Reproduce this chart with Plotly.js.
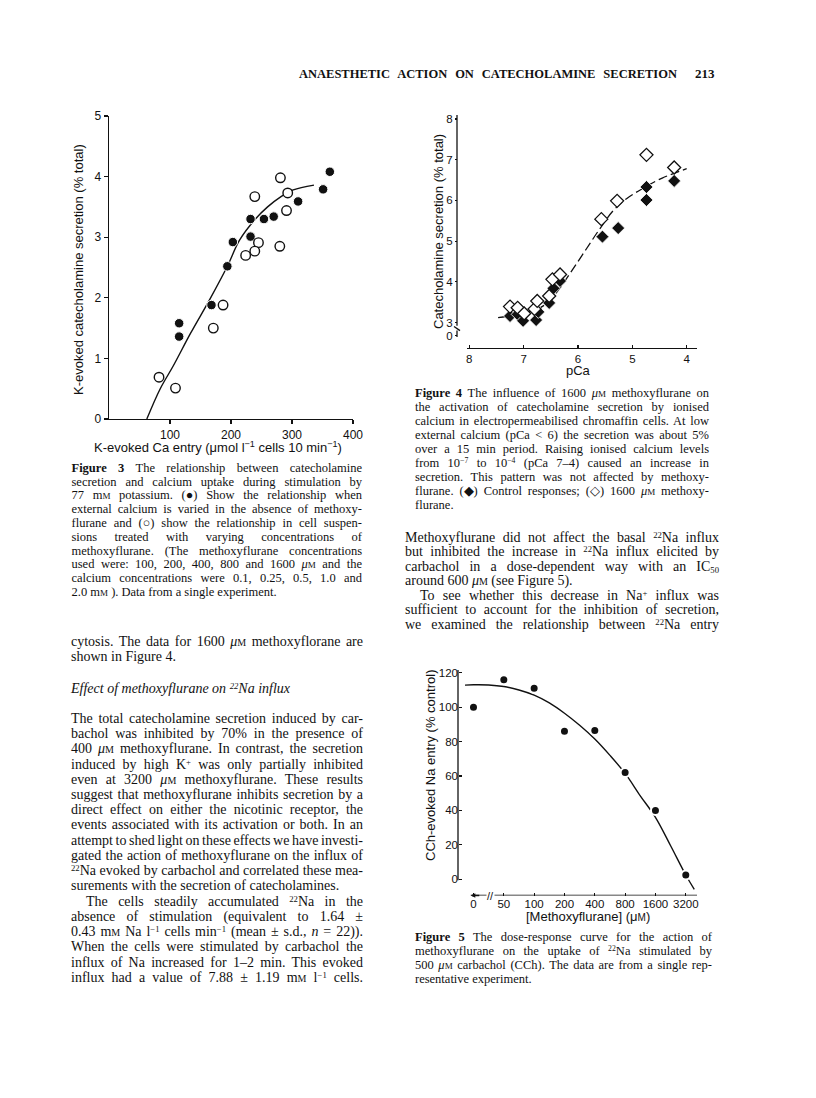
<!DOCTYPE html>
<html>
<head>
<meta charset="utf-8">
<script src="https://cdn.plot.ly/plotly-3.0.1.min.js"></script>
<style>
  body { margin: 0; background: #fff; }
  #page { position: relative; width: 816px; height: 1098px; overflow: hidden; background: #fff; }
  #plot { position: absolute; left: 0; top: 0; width: 816px; height: 1098px; }
  .ln { position: absolute; white-space: nowrap; line-height: 1; color: #111; z-index: 2;
        font-family: "Liberation Serif", "Times New Roman", serif; }
  .sc { font-variant: small-caps; }
  .sp { font-size: 0.62em; vertical-align: 0.5em; }
  .sb { font-size: 0.62em; vertical-align: -0.2em; }
</style>
</head>
<body>
<div id="page"><div id="plot"></div></div>
<script>
// Figure 3: K-evoked Ca entry vs catecholamine secretion
const fig3FilledCa  = [362, 351, 310, 270, 254, 232, 232, 203, 194, 168, 115, 115];
const fig3FilledSec = [4.08, 3.79, 3.59, 3.34, 3.30, 3.30, 3.01, 2.92, 2.52, 1.88, 1.58, 1.36];
const fig3OpenCa    = [281, 239, 293, 291, 245, 239, 224, 280, 187, 171, 82, 109];
const fig3OpenSec   = [3.98, 3.67, 3.73, 3.44, 2.91, 2.77, 2.70, 2.85, 1.88, 1.50, 0.69, 0.51];
const fig3CurveCa   = [62, 84, 105, 134, 165, 194, 214, 240, 260, 282, 302, 336];
const fig3CurveSec  = [0, 0.5, 0.87, 1.42, 1.97, 2.52, 2.95, 3.3, 3.5, 3.67, 3.78, 3.86];

// Figure 4: pCa vs secretion, control and 1600 uM methoxyflurane
const fig4ControlPCa = [7.25, 7.11, 7.01, 6.77, 6.73, 6.53, 6.45, 6.33, 5.55, 5.26, 4.74, 4.74, 4.23];
const fig4ControlSec = [3.16, 3.20, 3.04, 3.06, 3.26, 3.48, 3.84, 4.02, 5.11, 5.32, 6.33, 6.01, 6.48];
const fig4MethPCa    = [7.25, 7.11, 6.99, 6.80, 6.75, 6.53, 6.47, 6.33, 5.57, 5.28, 4.74, 4.23];
const fig4MethSec    = [3.39, 3.36, 3.22, 3.33, 3.53, 3.65, 4.06, 4.18, 5.54, 5.99, 7.12, 6.81];
const fig4CurvePCa   = [7.47, 7.1, 6.76, 6.55, 6.33, 6.1, 5.85, 5.6, 5.35, 5.1, 4.8, 4.45, 4.0];
const fig4CurveSec   = [3.12, 3.2, 3.32, 3.5, 3.85, 4.3, 4.8, 5.3, 5.75, 6.05, 6.3, 6.55, 6.78];
const fig4YTicks     = [2.67, 3, 4, 5, 6, 7, 8];
const fig4YLabels    = ['0', '3', '4', '5', '6', '7', '8'];

// Figure 5: methoxyflurane dose vs CCh-evoked Na entry
const fig5Labels     = ['0', '50', '100', '200', '400', '800', '1600', '3200'];
const fig5Entry      = [100, 116, 111, 86, 86.5, 62, 40, 2.5];
const fig5CurvePos   = [-0.3, 0, 0.5, 1, 1.5, 2, 2.5, 3, 3.5, 4, 4.5, 5, 5.5, 6, 6.5, 7, 7.28];
const fig5CurveEntry = [112.8, 113, 112.9, 112, 110, 107, 102.5, 96.5, 89.5, 81.5, 72, 61.5, 48.5, 36, 19.5, 2.5, -5.8];

const W = 816, H = 1098;
const fx = p => p / W;
const fy = p => 1 - p / H;
const ink = '#111';
const sans = 'Liberation Sans, Arial, sans-serif';

const fig5Pos = fig5Labels.map((_, i) => i);

const traces = [
  { x: fig3CurveCa, y: fig3CurveSec, xaxis: 'x', yaxis: 'y', mode: 'lines',
    line: { color: ink, width: 1.4, shape: 'spline' } },
  { x: fig3FilledCa, y: fig3FilledSec, xaxis: 'x', yaxis: 'y', mode: 'markers',
    marker: { symbol: 'circle', size: 9.5, color: ink, line: { color: '#fff', width: 1 } } },
  { x: fig3OpenCa, y: fig3OpenSec, xaxis: 'x', yaxis: 'y', mode: 'markers',
    marker: { symbol: 'circle', size: 9.5, color: '#fff', line: { color: ink, width: 1.4 } } },

  { x: fig4CurvePCa, y: fig4CurveSec, xaxis: 'x2', yaxis: 'y2', mode: 'lines',
    line: { color: ink, width: 1.3, shape: 'spline', dash: '9px,4px' } },
  { x: fig4ControlPCa, y: fig4ControlSec, xaxis: 'x2', yaxis: 'y2', mode: 'markers',
    marker: { symbol: 'diamond', size: 10, color: ink, line: { color: '#fff', width: 0.8 } } },
  { x: fig4MethPCa, y: fig4MethSec, xaxis: 'x2', yaxis: 'y2', mode: 'markers',
    marker: { symbol: 'diamond', size: 10, color: '#fff', line: { color: ink, width: 1.3 } } },

  { x: fig5CurvePos, y: fig5CurveEntry, xaxis: 'x3', yaxis: 'y3', mode: 'lines',
    line: { color: ink, width: 1.4, shape: 'spline' } },
  { x: fig5Pos, y: fig5Entry, xaxis: 'x3', yaxis: 'y3', mode: 'markers',
    marker: { symbol: 'circle', size: 9, color: ink, line: { color: '#fff', width: 2 } } }
];

const axisBase = {
  showgrid: false, zeroline: false, ticks: 'outside', ticklen: 4, tickwidth: 1.2,
  tickcolor: ink, linecolor: ink, linewidth: 1.3, fixedrange: true,
  tickfont: { family: sans, size: 12, color: ink }
};
const smallTicks = { family: sans, size: 11.5, color: ink };

const layout = {
  width: W, height: H,
  margin: { l: 0, r: 0, t: 0, b: 0 },
  paper_bgcolor: 'rgba(0,0,0,0)', plot_bgcolor: 'rgba(0,0,0,0)',
  showlegend: false,
  font: { family: sans, color: ink },
  xaxis: Object.assign({}, axisBase, {
    domain: [fx(109), fx(353)], range: [0, 400], tickvals: [100, 200, 300, 400],
    showline: true, anchor: 'y'
  }),
  yaxis: Object.assign({}, axisBase, {
    domain: [fy(419), fy(116)], range: [0, 5], tickvals: [0, 1, 2, 3, 4, 5],
    showline: true, anchor: 'x'
  }),
  xaxis2: Object.assign({}, axisBase, {
    domain: [fx(467), fx(697)], range: [8.042, 3.81], tickvals: [8, 7, 6, 5, 4],
    showline: true, anchor: 'y2', ticks: 'inside', ticklen: 3, tickfont: smallTicks
  }),
  yaxis2: Object.assign({}, axisBase, {
    domain: [fy(347.7), fy(115)], range: [2.38, 8.1],
    tickvals: fig4YTicks, ticktext: fig4YLabels,
    showline: false, anchor: 'free', position: fx(457), ticklen: 2, tickfont: smallTicks
  }),
  xaxis3: Object.assign({}, axisBase, {
    domain: [fx(465), fx(697)], range: [-0.28, 7.37],
    tickvals: fig5Pos, ticktext: fig5Labels,
    showline: false, anchor: 'y3', ticks: 'inside', ticklen: 3, tickfont: smallTicks
  }),
  yaxis3: Object.assign({}, axisBase, {
    domain: [fy(895.5), fy(670)], range: [-9.4, 121.6],
    tickvals: [0, 20, 40, 60, 80, 100, 120],
    showline: false, anchor: 'free', position: fx(458), ticks: 'inside', ticklen: 3,
    tickfont: smallTicks
  }),
  shapes: [
    // figure 4 y axis with break
    { type: 'line', xref: 'paper', yref: 'y2', x0: fx(457), x1: fx(457), y0: 2.92, y1: 8.1,
      line: { color: ink, width: 1.3 } },
    { type: 'line', xref: 'paper', yref: 'y2', x0: fx(454), x1: fx(460), y0: 2.9, y1: 2.8,
      line: { color: ink, width: 1.3 } },
    { type: 'line', xref: 'paper', yref: 'y2', x0: fx(457), x1: fx(457), y0: 2.8, y1: 2.64,
      line: { color: ink, width: 1.3 } },
    // figure 5 axes
    { type: 'line', xref: 'paper', yref: 'y3', x0: fx(458), x1: fx(458), y0: -0.5, y1: 121.6,
      line: { color: ink, width: 1.3 } },
    { type: 'line', xref: 'x3', yref: 'y3', x0: -0.09, x1: 7.37, y0: -9.4, y1: -9.4,
      line: { color: ink, width: 1.3 } }
  ],
  annotations: [
    { text: 'K-evoked catecholamine secretion (% total)', x: fx(78), y: fy(270), textangle: -90 },
    { text: 'K-evoked Ca entry (μmol l<sup>−1</sup> cells 10 min<sup>−1</sup>)', x: fx(218), y: fy(447) },
    { text: 'Catecholamine secretion (% total)', x: fx(438.5), y: fy(231.5), textangle: -90 },
    { text: 'pCa', x: fx(578), y: fy(370) },
    { text: 'CCh-evoked Na entry (% control)', x: fx(430), y: fy(766), textangle: -90 },
    { text: '[Methoxyflurane] (μ<span style="font-size:10px">M</span>)', x: fx(587.5), y: fy(916) }
  ].map(a => Object.assign({ xref: 'paper', yref: 'paper', xanchor: 'center', yanchor: 'middle',
    showarrow: false, font: { size: 13, family: sans, color: ink } }, a)).concat([
    { text: '//', xref: 'x3', yref: 'y3', x: 0.545, y: -9.4, xanchor: 'center', yanchor: 'middle',
      showarrow: false, font: { size: 11, color: ink }, bgcolor: '#fff', borderpad: 0 },
    { text: '', xref: 'x3', yref: 'y3', x: -0.09, y: -9.4, ax: 10, ay: 0,
      showarrow: true, arrowhead: 2, arrowsize: 0.7, arrowwidth: 1.3, arrowcolor: ink }
  ])
};

Plotly.newPlot('plot', traces, layout, { staticPlot: true, displayModeBar: false });

// ---- page text ----
const page = document.getElementById('page');
const uM = '<i>μ</i><span class="sc">m</span>';
const mM = 'm<span class="sc">m</span>';
const sup = s => '<span class="sp">' + s + '</span>';
const sub = s => '<span class="sb">' + s + '</span>';

function fit(d, w) {
  const s = d.firstChild;
  const nat = s.getBoundingClientRect().width;
  const n = (s.textContent.match(/ /g) || []).length;
  if (n) s.style.wordSpacing = ((w - nat) / n) + 'px';
}

function block(lines, left, width, top0, step, size, extra) {
  lines.forEach((l, i) => {
    const d = document.createElement('div');
    d.className = 'ln';
    const ind = l.ind || 0;
    d.style.left = (left + ind) + 'px';
    d.style.top = (top0 + i * step - size * 0.6) + 'px';
    d.style.fontSize = size + 'px';
    if (extra) Object.assign(d.style, extra);
    d.innerHTML = '<span>' + l.t + '</span>';
    page.appendChild(d);
    if (l.j) fit(d, width - ind);
  });
}

// running head
block([{ t: 'ANAESTHETIC ACTION ON CATECHOLAMINE SECRETION', j: 1 }], 299, 378, 75, 0, 12.5,
  { fontWeight: 'bold' });
block([{ t: '213' }], 695, 15, 75, 0, 13, { fontWeight: 'bold' });

// Figure 3 caption
block([
  { t: '<b>Figure 3</b> The relationship between catecholamine', j: 1 },
  { t: 'secretion and calcium uptake during stimulation by', j: 1 },
  { t: '77 ' + mM + ' potassium. (●) Show the relationship when', j: 1 },
  { t: 'external calcium is varied in the absence of methoxy-', j: 1 },
  { t: 'flurane and (○) show the relationship in cell suspen-', j: 1 },
  { t: 'sions treated with varying concentrations of', j: 1 },
  { t: 'methoxyflurane. (The methoxyflurane concentrations', j: 1 },
  { t: 'used were: 100, 200, 400, 800 and 1600 ' + uM + ' and the', j: 1 },
  { t: 'calcium concentrations were 0.1, 0.25, 0.5, 1.0 and', j: 1 },
  { t: '2.0 ' + mM + ' ). Data from a single experiment.' }
], 71.5, 290.5, 469.3, 13.8, 12.5);

// Figure 4 caption
block([
  { t: '<b>Figure 4</b> The influence of 1600 ' + uM + ' methoxyflurane on', j: 1 },
  { t: 'the activation of catecholamine secretion by ionised', j: 1 },
  { t: 'calcium in electropermeabilised chromaffin cells. At low', j: 1 },
  { t: 'external calcium (pCa &lt; 6) the secretion was about 5%', j: 1 },
  { t: 'over a 15 min period. Raising ionised calcium levels', j: 1 },
  { t: 'from 10' + sup('−7') + ' to 10' + sup('−4') + ' (pCa 7–4) caused an increase in', j: 1 },
  { t: 'secretion. This pattern was not affected by methoxy-', j: 1 },
  { t: 'flurane. (◆) Control responses; (◇) 1600 ' + uM + ' methoxy-', j: 1 },
  { t: 'flurane.' }
], 415, 294, 394, 14.08, 12.5);

// right column paragraph
block([
  { t: 'Methoxyflurane did not affect the basal ' + sup('22') + 'Na influx', j: 1 },
  { t: 'but inhibited the increase in ' + sup('22') + 'Na influx elicited by', j: 1 },
  { t: 'carbachol in a dose-dependent way with an IC' + sub('50'), j: 1 },
  { t: 'around 600 ' + uM + ' (see Figure 5).' },
  { t: 'To see whether this decrease in Na' + sup('+') + ' influx was', j: 1, ind: 15 },
  { t: 'sufficient to account for the inhibition of secretion,', j: 1 },
  { t: 'we examined the relationship between ' + sup('22') + 'Na entry', j: 1 }
], 405, 314, 539, 14.5, 14);

// Figure 5 caption
block([
  { t: '<b>Figure 5</b> The dose-response curve for the action of', j: 1 },
  { t: 'methoxyflurane on the uptake of ' + sup('22') + 'Na stimulated by', j: 1 },
  { t: '500 ' + uM + ' carbachol (CCh). The data are from a single rep-', j: 1 },
  { t: 'resentative experiment.' }
], 415, 297, 938.3, 13.9, 12.5);

// left column body
block([
  { t: 'cytosis. The data for 1600 ' + uM + ' methoxyflorane are', j: 1 },
  { t: 'shown in Figure 4.' }
], 71, 292, 643.3, 15, 14);
block([{ t: '<i>Effect of methoxyflurane on ' + sup('22') + 'Na influx</i>' }], 71, 292, 690, 0, 14);
block([
  { t: 'The total catecholamine secretion induced by car-', j: 1 },
  { t: 'bachol was inhibited by 70% in the presence of', j: 1 },
  { t: '400 ' + uM + ' methoxyflurane. In contrast, the secretion', j: 1 },
  { t: 'induced by high K' + sup('+') + ' was only partially inhibited', j: 1 },
  { t: 'even at 3200 ' + uM + ' methoxyflurane. These results', j: 1 },
  { t: 'suggest that methoxyflurane inhibits secretion by a', j: 1 },
  { t: 'direct effect on either the nicotinic receptor, the', j: 1 },
  { t: 'events associated with its activation or both. In an', j: 1 },
  { t: 'attempt to shed light on these effects we have investi-', j: 1 },
  { t: 'gated the action of methoxyflurane on the influx of', j: 1 },
  { t: sup('22') + 'Na evoked by carbachol and correlated these mea-', j: 1 },
  { t: 'surements with the secretion of catecholamines.' },
  { t: 'The cells steadily accumulated ' + sup('22') + 'Na in the', j: 1, ind: 15 },
  { t: 'absence of stimulation (equivalent to 1.64 ±', j: 1 },
  { t: '0.43 ' + mM + ' Na l' + sup('−1') + ' cells min' + sup('−1') + ' (mean ± s.d., <i>n</i> = 22)).', j: 1 },
  { t: 'When the cells were stimulated by carbachol the', j: 1 },
  { t: 'influx of Na increased for 1–2 min. This evoked', j: 1 },
  { t: 'influx had a value of 7.88 ± 1.19 ' + mM + ' l' + sup('−1') + ' cells.', j: 1 }
], 71, 292, 720, 15.25, 14);
</script>
</body>
</html>
